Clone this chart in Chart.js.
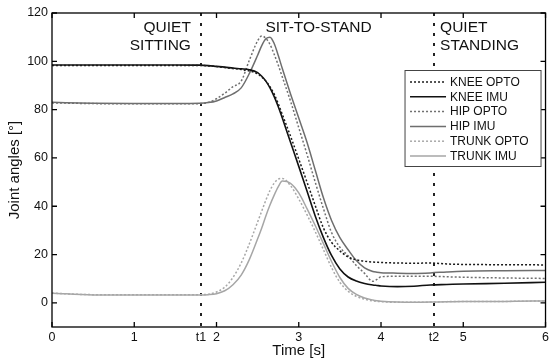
<!DOCTYPE html>
<html><head><meta charset="utf-8">
<script src="https://cdn.jsdelivr.net/npm/chart.js@4.4.1/dist/chart.umd.min.js"></script>
<style>html,body{margin:0;padding:0;background:#fff;}#wrap{width:552px;height:360px;}</style>
</head><body><div id="wrap"><canvas id="c" width="552" height="360"></canvas></div>
<script>
const times     = [0, 0.5, 1.0, 1.5, 1.8, 1.9, 2.0, 2.1, 2.2, 2.3, 2.4, 2.5, 2.55, 2.6, 2.65, 2.7, 2.75, 2.8, 2.9, 3.0, 3.1, 3.2, 3.3, 3.4, 3.5, 3.6, 3.7, 3.8, 3.9, 3.95, 4.0, 4.2, 4.4, 4.6, 4.8, 5.0, 5.5, 6.0];
const kneeOpto  = [98.3, 98.3, 98.3, 98.3, 98.3, 98.1, 97.8, 97.4, 97.0, 96.6, 96.0, 94.8, 93.5, 91.8, 89.5, 86.5, 82.5, 78.0, 69.0, 59.5, 50.0, 40.3, 31.0, 25.0, 21.5, 19.0, 17.8, 17.2, 16.9, 16.8, 16.7, 16.5, 16.4, 16.5, 16.1, 15.9, 15.8, 15.7];
const kneeImu   = [98.5, 98.5, 98.5, 98.5, 98.4, 98.2, 97.9, 97.6, 97.2, 96.9, 96.5, 95.3, 93.8, 91.8, 89.0, 85.5, 81.3, 76.5, 66.5, 56.5, 46.3, 36.0, 27.0, 19.5, 14.0, 10.7, 9.0, 8.0, 7.4, 7.2, 7.0, 6.7, 6.9, 7.4, 7.6, 7.8, 8.1, 8.5];
const hipOpto   = [82.8, 82.5, 82.4, 82.4, 82.5, 83.0, 84.5, 86.8, 89.5, 91.8, 100.5, 108.5, 110.5, 109.5, 107.0, 103.0, 98.5, 93.5, 83.5, 72.5, 61.5, 50.0, 39.0, 29.0, 23.0, 19.5, 15.5, 12.2, 8.9, 9.7, 10.8, 11.0, 11.0, 11.0, 10.8, 10.6, 10.3, 10.1];
const hipImu    = [83.0, 82.6, 82.5, 82.5, 82.6, 82.9, 83.6, 85.0, 86.5, 89.0, 95.0, 102.5, 106.5, 109.3, 110.0, 107.5, 102.5, 97.0, 86.5, 76.5, 66.5, 55.0, 43.5, 34.0, 27.0, 22.0, 17.5, 14.5, 13.0, 12.7, 12.5, 12.3, 12.2, 12.4, 12.8, 13.1, 13.3, 13.4];
const trunkOpto = [4.0, 3.4, 3.4, 3.4, 3.4, 3.6, 4.5, 6.5, 10.5, 16.5, 24.5, 33.5, 38.0, 42.5, 46.5, 49.5, 51.2, 51.5, 48.5, 43.0, 36.5, 29.5, 22.0, 14.5, 8.5, 4.8, 2.7, 1.5, 0.8, 0.6, 0.5, 0.2, 0.2, 0.3, 0.5, 0.6, 0.6, 0.8];
const trunkImu  = [4.0, 3.3, 3.3, 3.3, 3.3, 3.4, 3.8, 5.0, 7.5, 11.5, 18.0, 26.5, 31.0, 36.0, 40.5, 44.5, 48.0, 50.4, 49.5, 45.5, 39.0, 32.0, 24.5, 17.0, 10.5, 6.0, 3.5, 2.0, 1.2, 0.9, 0.7, 0.3, 0.2, 0.3, 0.5, 0.6, 0.6, 0.8];
const seriesLabels = ['KNEE OPTO', 'KNEE IMU', 'HIP OPTO', 'HIP IMU', 'TRUNK OPTO', 'TRUNK IMU'];
const xTickValues = [0, 1, 2, 3, 4, 5, 6];
const yTickValues = [0, 20, 40, 60, 80, 100, 120];
const eventTimes  = [1.81, 4.645];
const eventLabels = ['t1', 't2'];
const phaseLabels = [['QUIET', 'SITTING'], ['SIT-TO-STAND'], ['QUIET', 'STANDING']];

const FONT = "'Liberation Sans', Arial, Helvetica, sans-serif";
const pts = arr => times.map((t, i) => ({x: t, y: arr[i]}));
const styles = [
  {c: '#1a1a1a', d: [2, 2], w: 1.5},
  {c: '#111111', d: [], w: 1.6},
  {c: '#707070', d: [2, 2], w: 1.5},
  {c: '#6e6e6e', d: [], w: 1.5},
  {c: '#a8a8a8', d: [2, 2], w: 1.5},
  {c: '#a6a6a6', d: [], w: 1.5}
];
const series = [kneeOpto, kneeImu, hipOpto, hipImu, trunkOpto, trunkImu];
const datasets = series.map((s, i) => ({
  label: seriesLabels[i], data: pts(s),
  borderColor: styles[i].c, borderDash: styles[i].d, borderWidth: styles[i].w,
  pointRadius: 0, cubicInterpolationMode: 'monotone', fill: false
}));

const framePlugin = {
  id: 'frame',
  beforeDatasetsDraw(chart) {
    const {ctx, chartArea: ca, scales: {x, y}} = chart;
    ctx.save();
    ctx.strokeStyle = '#222'; ctx.lineWidth = 2; ctx.setLineDash([3, 7]);
    eventTimes.forEach(t => {
      const px = Math.round(x.getPixelForValue(t));
      ctx.beginPath(); ctx.moveTo(px, ca.top); ctx.lineTo(px, ca.bottom); ctx.stroke();
    });
    ctx.restore();
  },
  afterDatasetsDraw(chart) {
    const {ctx, chartArea: ca, scales: {x, y}} = chart;
    ctx.save();
    ctx.strokeStyle = '#000'; ctx.lineWidth = 1.3; ctx.setLineDash([]);
    ctx.strokeRect(ca.left, ca.top, ca.right - ca.left, ca.bottom - ca.top);
    const L = 5;
    ctx.beginPath();
    xTickValues.forEach(v => {
      const px = x.getPixelForValue(v);
      ctx.moveTo(px, ca.bottom); ctx.lineTo(px, ca.bottom - L);
      ctx.moveTo(px, ca.top); ctx.lineTo(px, ca.top + L);
    });
    yTickValues.forEach(v => {
      const py = y.getPixelForValue(v);
      ctx.moveTo(ca.left, py); ctx.lineTo(ca.left + L, py);
      ctx.moveTo(ca.right, py); ctx.lineTo(ca.right - L, py);
    });
    ctx.stroke();

    // phase annotations
    ctx.fillStyle = '#111'; ctx.font = '15.5px ' + FONT; ctx.textBaseline = 'middle';
    const y1 = y.getPixelForValue(114), y2 = y.getPixelForValue(106.5);
    ctx.textAlign = 'right';
    const xs = x.getPixelForValue(eventTimes[0]) - 10;
    ctx.fillText(phaseLabels[0][0], xs, y1); ctx.fillText(phaseLabels[0][1], xs, y2);
    ctx.textAlign = 'center';
    ctx.fillText(phaseLabels[1][0], x.getPixelForValue(3.24), y1);
    ctx.textAlign = 'left';
    const xq = x.getPixelForValue(eventTimes[1]) + 6;
    ctx.fillText(phaseLabels[2][0], xq, y1); ctx.fillText(phaseLabels[2][1], xq, y2);

    // legend
    const bw = 136, bh = 96;
    const bx = ca.right - 140.5, by = ca.top + 57.5;
    ctx.fillStyle = '#fff'; ctx.fillRect(bx, by, bw, bh);
    ctx.strokeStyle = '#444'; ctx.lineWidth = 1; ctx.strokeRect(bx, by, bw, bh);
    ctx.font = '12px ' + FONT; ctx.textAlign = 'left'; ctx.textBaseline = 'middle';
    chart.data.datasets.forEach((ds, i) => {
      const ly = by + 11.5 + i * 14.8;
      ctx.strokeStyle = ds.borderColor; ctx.lineWidth = ds.borderWidth;
      ctx.setLineDash(ds.borderDash);
      ctx.beginPath(); ctx.moveTo(bx + 5, ly); ctx.lineTo(bx + 41, ly); ctx.stroke();
      ctx.setLineDash([]);
      ctx.fillStyle = '#111';
      ctx.fillText(ds.label, bx + 45, ly + 0.5);
    });
    ctx.restore();
  }
};

new Chart(document.getElementById('c'), {
  type: 'line',
  data: {datasets},
  options: {
    responsive: false, animation: false, devicePixelRatio: 1,
    layout: {padding: {top: 13, right: 4, left: 0, bottom: 0}},
    plugins: {legend: {display: false}, tooltip: {enabled: false}},
    scales: {
      x: {
        type: 'linear', min: 0, max: 6,
        afterBuildTicks: s => { s.ticks = xTickValues.concat(eventTimes).sort((a, b) => a - b).map(v => ({value: v})); },
        afterFit: s => { s.height = 33; },
        grid: {display: false, drawTicks: false}, border: {display: false},
        ticks: {autoSkip: false, maxRotation: 0, padding: 3, color: '#111', font: {family: FONT, size: 12.5},
          callback: v => { const k = eventTimes.findIndex(e => Math.abs(e - v) < 1e-6); return k >= 0 ? eventLabels[k] : String(v); }},
        title: {display: true, text: 'Time [s]', color: '#111', font: {family: FONT, size: 15}, padding: {top: 0, bottom: 0}}
      },
      y: {
        type: 'linear', min: -10, max: 120,
        afterBuildTicks: s => { s.ticks = yTickValues.map(v => ({value: v})); },
        afterFit: s => { s.width = 52; },
        grid: {display: false, drawTicks: false}, border: {display: false},
        ticks: {padding: 4, color: '#111', font: {family: FONT, size: 12.5}},
        title: {display: true, text: 'Joint angles [°]', color: '#111', font: {family: FONT, size: 15}, padding: {top: 6, bottom: 0}}
      }
    }
  },
  plugins: [framePlugin]
});
</script></body></html>
